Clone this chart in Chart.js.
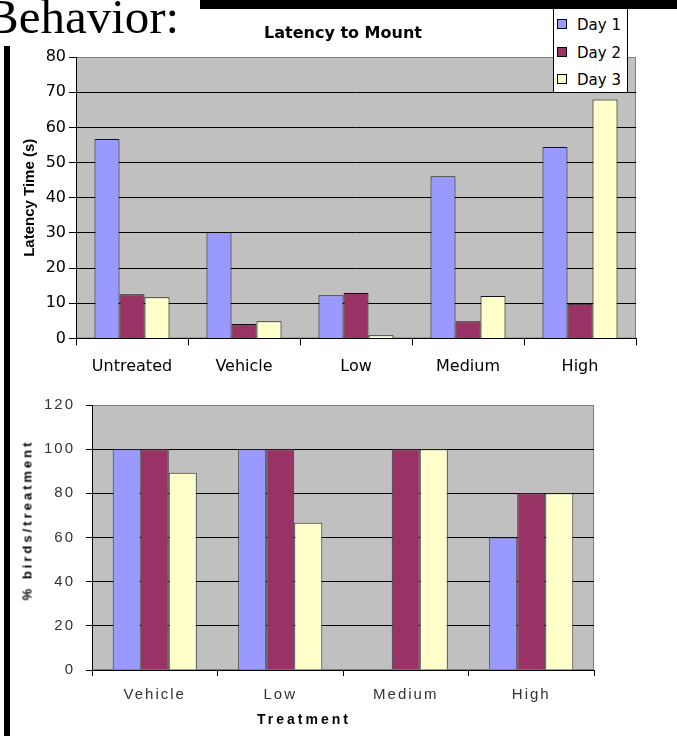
<!DOCTYPE html>
<html>
<head>
<meta charset="utf-8">
<script src="https://cdn.jsdelivr.net/npm/chart.js@4/dist/chart.umd.min.js"></script>
<style>
  body { margin: 0; width: 677px; height: 736px; overflow: hidden; background: #fff; position: relative; }
  .abs { position: absolute; }
  #heading { left: -14px; top: -8px; font: 49px/49px "Liberation Serif", serif; color: #000; white-space: nowrap; }
  #topBar { left: 200px; top: 0; width: 477px; height: 9px; background: #000; }
  #sideBar { left: 4px; top: 46px; width: 6px; height: 690px; background: #000; }
  #topTitle { left: 343px; top: 32px; transform: translate(-50%, -50%); font: bold 16px "DejaVu Sans", sans-serif; white-space: nowrap; }
  #legend { left: 553px; top: 8px; width: 75px; height: 85px; box-sizing: border-box; border: 1px solid #000; background: #fff; }
  .item { position: absolute; left: 3px; height: 20px; line-height: 20px; font: 15px/20px "DejaVu Sans", sans-serif; white-space: nowrap; }
  .swatch { display: inline-block; width: 8px; height: 8px; border: 1px solid #000; margin-right: 10px; vertical-align: 1px; }
  #pctTitle { left: 27px; top: 520px; transform: translate(-50%, -50%) rotate(-90deg); font: bold 13px "Liberation Sans", sans-serif; letter-spacing: 3px; white-space: nowrap; }
  #treatTitle { left: 304px; top: 719px; transform: translate(-50%, -50%); font: bold 14px "Liberation Sans", sans-serif; letter-spacing: 3px; white-space: nowrap; }
</style>
</head>
<body>
<div id="topWrap" class="abs" style="left:0;top:0;width:677px;height:380px"><canvas id="latencyChart"></canvas></div>
<div id="bottomWrap" class="abs" style="left:0;top:380px;width:677px;height:356px"><canvas id="pctChart"></canvas></div>
<div id="heading" class="abs">Behavior:</div>
<div id="topBar" class="abs"></div>
<div id="sideBar" class="abs"></div>
<div id="topTitle" class="abs">Latency to Mount</div>
<div id="legend" class="abs"></div>
<div id="pctTitle" class="abs">% birds/treatment</div>
<div id="treatTitle" class="abs">Treatment</div>
<script>
// dữ liệu biểu đồ trên
const latencyCategories = ["Untreated", "Vehicle", "Low", "Medium", "High"];
const latencyDay1 = [56.7, 30.2, 12.3, 46.1, 54.4];
const latencyDay2 = [12.6, 4.1, 12.9, 4.9, 9.9];
const latencyDay3 = [11.7, 4.9, 0.9, 12.1, 67.9];
const latencyTicks = [0, 10, 20, 30, 40, 50, 60, 70, 80];

// dữ liệu biểu đồ dưới
const pctCategories = ["Vehicle", "Low", "Medium", "High"];
const pctDay1 = [100, 100, 0, 60];
const pctDay2 = [100, 100, 100, 80];
const pctDay3 = [89.3, 66.7, 100, 80];
const pctTicks = [0, 20, 40, 60, 80, 100, 120];

const seriesNames = ["Day 1", "Day 2", "Day 3"];
const seriesColors = ["#9999FF", "#993366", "#FFFFCC"];

// legend
const legendEl = document.getElementById("legend");
const legendY = [6, 34, 61];
seriesNames.forEach((name, i) => {
    const d = document.createElement("div");
    d.className = "item";
    d.style.top = legendY[i] + "px";
    d.innerHTML = `<span class="swatch" style="background:${seriesColors[i]}"></span>${name}`;
    legendEl.appendChild(d);
});

// nền xám cho vùng vẽ
const plotBg = {
    id: "plotBg",
    beforeDraw(chart, args, opts) {
        const { ctx, chartArea: a } = chart;
        ctx.save();
        ctx.fillStyle = "#C0C0C0";
        ctx.fillRect(a.left, a.top, a.width, a.height);
        ctx.strokeStyle = "#808080";
        ctx.lineWidth = 1;
        ctx.strokeRect(a.left + 0.5, a.top + 0.5, a.width - 1, a.height - 1);
        ctx.restore();
        ctx.letterSpacing = opts.spacing || "0px";
    }
};

function makeDatasets(values, border) {
    return values.map((v, i) => ({
        label: seriesNames[i],
        data: v,
        backgroundColor: seriesColors[i],
        borderColor: border,
        borderWidth: 1,
        categoryPercentage: 0.67,
        barPercentage: 1.0
    }));
}

new Chart(document.getElementById("latencyChart"), {
    type: "bar",
    data: {
        labels: latencyCategories,
        datasets: makeDatasets([latencyDay1, latencyDay2, latencyDay3], "#111")
    },
    plugins: [plotBg],
    options: {
        responsive: true,
        maintainAspectRatio: false,
        animation: false,
        layout: { padding: { top: 57, right: 41, left: 0, bottom: 0 } },
        plugins: { legend: { display: false }, tooltip: { enabled: false }, plotBg: {} },
        scales: {
            x: {
                grid: { drawOnChartArea: false, offset: true, tickLength: 7, color: "#000" },
                border: { color: "#000" },
                ticks: { color: "#000", padding: 12, font: { family: "DejaVu Sans", size: 16 } },
                afterFit: s => { s.height = 41.5; }
            },
            y: {
                min: 0, max: 80,
                afterBuildTicks: s => { s.ticks = latencyTicks.map(v => ({ value: v })); },
                grid: { color: c => (c.tick && c.tick.value === 80 ? "#808080" : "#000"), tickColor: "#000", tickLength: 7 },
                border: { color: "#000" },
                ticks: { color: "#000", padding: 3, font: { family: "DejaVu Sans", size: 16 } },
                title: { display: true, text: "Latency Time (s)", color: "#000", padding: { top: 21, bottom: 0 }, font: { family: "Liberation Sans", size: 15, weight: "bold" } },
                afterFit: s => { s.width = 76; }
            }
        }
    }
});

new Chart(document.getElementById("pctChart"), {
    type: "bar",
    data: {
        labels: pctCategories,
        datasets: makeDatasets([pctDay1, pctDay2, pctDay3], "#333")
    },
    plugins: [plotBg],
    options: {
        responsive: true,
        maintainAspectRatio: false,
        animation: false,
        layout: { padding: { top: 25, right: 83, left: 0, bottom: 0 } },
        plugins: { legend: { display: false }, tooltip: { enabled: false }, plotBg: { spacing: "2px" } },
        scales: {
            x: {
                grid: { drawOnChartArea: false, offset: true, tickLength: 6, color: "#000" },
                border: { color: "#000" },
                ticks: { color: "#333", padding: 10, font: { family: "Liberation Sans", size: 15 } },
                afterFit: s => { s.height = 66; }
            },
            y: {
                min: 0, max: 120,
                afterBuildTicks: s => { s.ticks = pctTicks.map(v => ({ value: v })); },
                grid: { color: c => (c.tick && c.tick.value === 120 ? "#808080" : "#000"), tickColor: "#000", tickLength: 6 },
                border: { color: "#000" },
                ticks: { color: "#333", padding: 11, font: { family: "Liberation Sans", size: 15 } },
                afterFit: s => { s.width = 92; }
            }
        }
    }
});
</script>
</body>
</html>
